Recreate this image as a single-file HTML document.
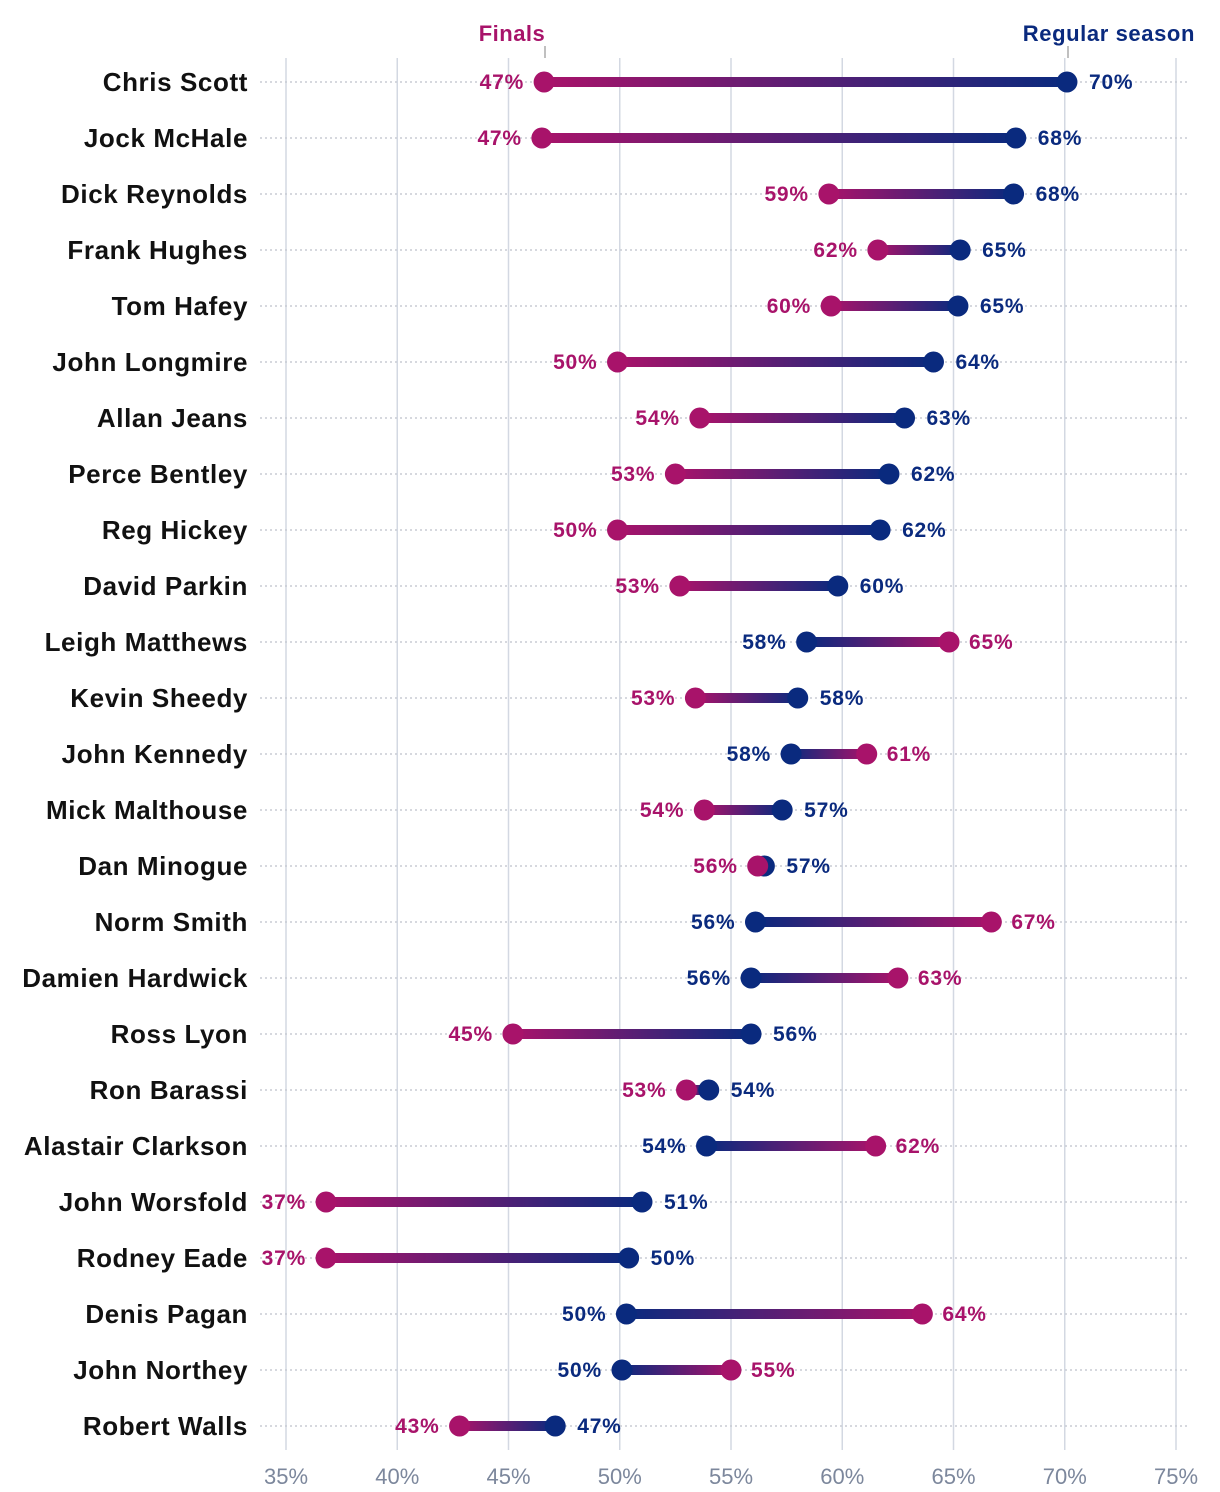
<!DOCTYPE html>
<html><head><meta charset="utf-8">
<style>
html,body{margin:0;padding:0;background:#fff;}
svg{display:block;font-family:"Liberation Sans",sans-serif;}
</style></head>
<body>
<svg id="chart" width="1220" height="1492" viewBox="0 0 1220 1492" xmlns="http://www.w3.org/2000/svg">
<defs id="defs"></defs>
<g id="grid"></g>
<g id="rows"></g>
<text x="512" y="41" text-anchor="middle" font-size="22" letter-spacing="0.5" font-weight="bold" fill="#a8136a">Finals</text>
<line x1="545" y1="46" x2="545" y2="58" stroke="#aaa" stroke-width="1.5"/>
<text x="1195" y="41" text-anchor="end" font-size="22" letter-spacing="0.6" font-weight="bold" fill="#0a2a7e">Regular season</text>
<line x1="1068" y1="46" x2="1068" y2="58" stroke="#aaa" stroke-width="1.5"/>
</svg>
<script>
const coaches=["Chris Scott","Jock McHale","Dick Reynolds","Frank Hughes","Tom Hafey","John Longmire","Allan Jeans","Perce Bentley","Reg Hickey","David Parkin","Leigh Matthews","Kevin Sheedy","John Kennedy","Mick Malthouse","Dan Minogue","Norm Smith","Damien Hardwick","Ross Lyon","Ron Barassi","Alastair Clarkson","John Worsfold","Rodney Eade","Denis Pagan","John Northey","Robert Walls"];
const finals=[46.6,46.5,59.4,61.6,59.5,49.9,53.6,52.5,49.9,52.7,64.8,53.4,61.1,53.8,56.2,66.7,62.5,45.2,53.0,61.5,36.8,36.8,63.6,55.0,42.8];
const regular=[70.1,67.8,67.7,65.3,65.2,64.1,62.8,62.1,61.7,59.8,58.4,58.0,57.7,57.3,56.5,56.1,55.9,55.9,54.0,53.9,51.0,50.4,50.3,50.1,47.1];
const ticks=[35,40,45,50,55,60,65,70,75];
const NS="http://www.w3.org/2000/svg";
const X=v=>286+(v-35)*22.25;
const Y=i=>82+i*56;
const MAG="#a8136a",NAVY="#0a2a7e";
function mk(tag,attrs,parent){const e=document.createElementNS(NS,tag);for(const k in attrs)e.setAttribute(k,attrs[k]);parent.appendChild(e);return e;}
const grid=document.getElementById('grid'),rows=document.getElementById('rows'),defs=document.getElementById('defs');
ticks.forEach(t=>{
  const l=mk('line',{x1:X(t),x2:X(t),y1:58,y2:1450,stroke:"#d3d8e2","stroke-width":1.5},grid);
  
  
  const tx=mk('text',{x:X(t),y:1484,"text-anchor":"middle","font-size":22,fill:"#7c879c"},grid);
  tx.textContent=t+'%';
  
  
});
coaches.forEach((c,i)=>{
  const y=Y(i),f=finals[i],r=regular[i],fx=X(f),rx=X(r);
  const g=mk('g',{},rows);
  
  
  const hl=mk('line',{x1:260,x2:1188,y1:y,y2:y,stroke:"#c8ccd4","stroke-width":1.5,"stroke-dasharray":"2 3"},g);
  
  
  const nm=mk('text',{x:248,y:y+9,"text-anchor":"end","font-size":26,"letter-spacing":0.6,"font-weight":"bold",fill:"#111"},g);
  nm.textContent=c;
  
  
  const gr=mk('linearGradient',{id:'gr'+i,gradientUnits:'userSpaceOnUse',x1:fx,x2:rx,y1:0,y2:0},defs);
  mk('stop',{offset:0,"stop-color":MAG},gr);mk('stop',{offset:1,"stop-color":NAVY},gr);
  const ln=mk('line',{x1:fx,x2:rx,y1:y,y2:y,stroke:'url(#gr'+i+')',"stroke-width":10},g);
  
  
  const rd=mk('circle',{cx:rx,cy:y,r:10.5,fill:NAVY},g);
  
  
  const fd=mk('circle',{cx:fx,cy:y,r:10.5,fill:MAG},g);
  
  
  const fLeft=f<r;
  const fl=mk('text',{x:fLeft?fx-20:fx+20,y:y+7,"text-anchor":fLeft?"end":"start","font-size":21,"letter-spacing":0.8,"font-weight":"bold",fill:MAG},g);
  fl.textContent=Math.round(f)+'%';
  
  
  const rl=mk('text',{x:fLeft?rx+22:rx-20,y:y+7,"text-anchor":fLeft?"start":"end","font-size":21,"letter-spacing":0.8,"font-weight":"bold",fill:NAVY},g);
  rl.textContent=Math.round(r)+'%';
  
  
});
</script>
</body></html>
